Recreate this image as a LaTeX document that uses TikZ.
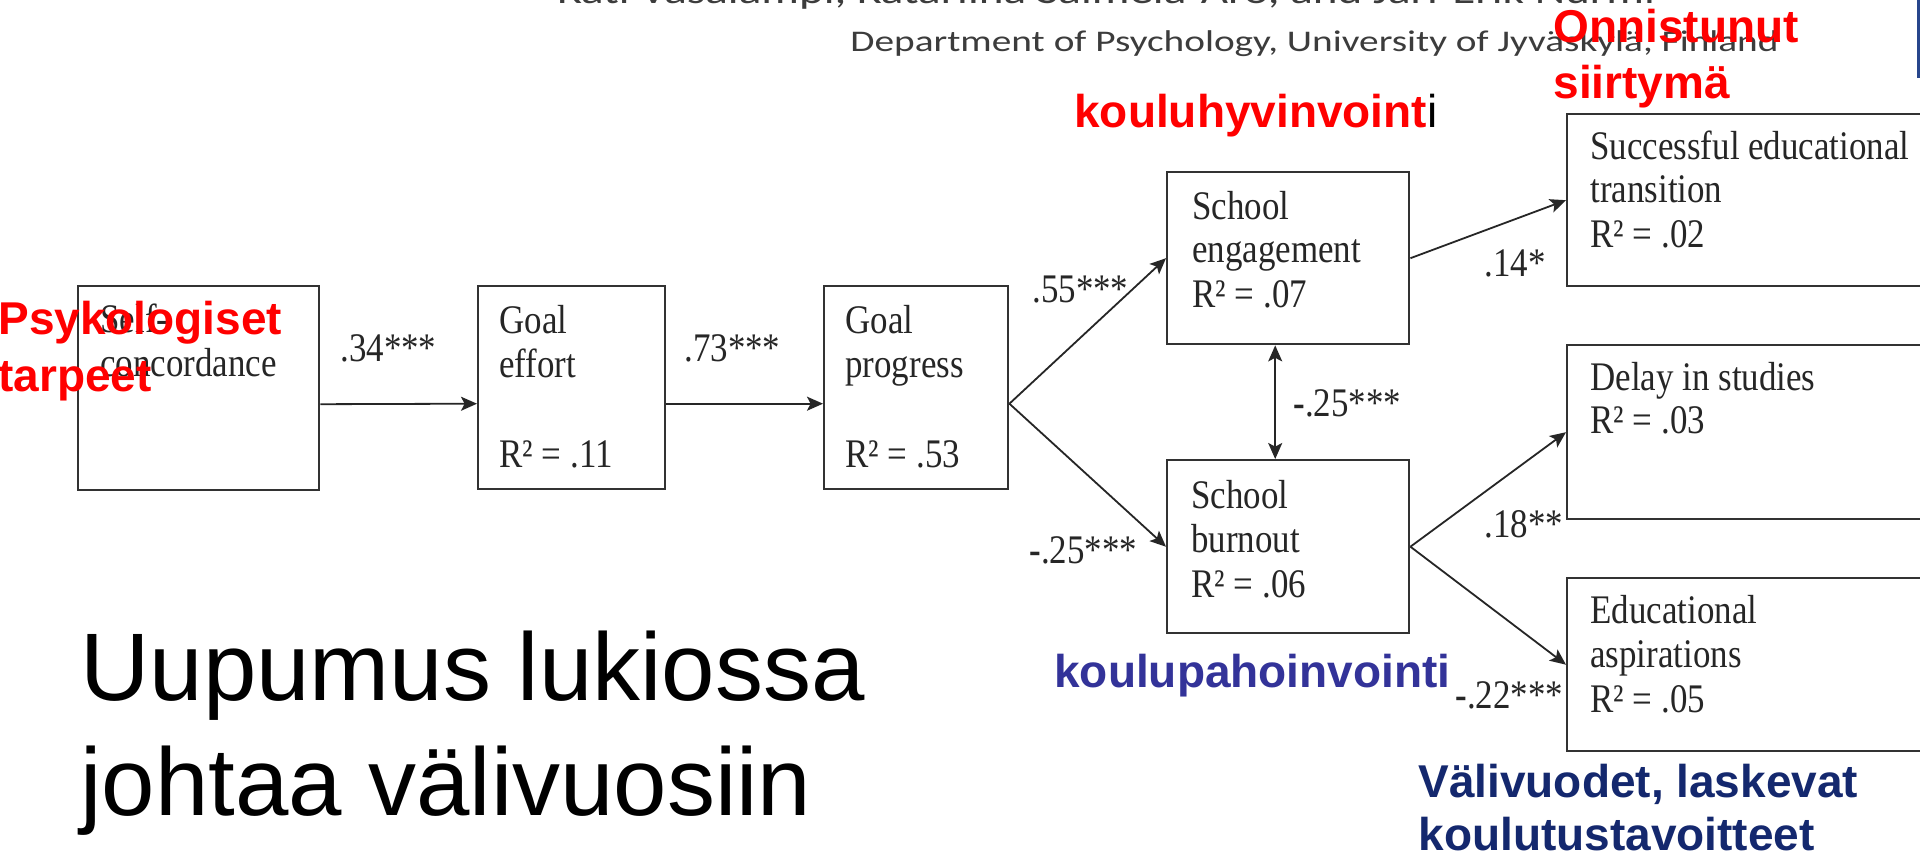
\documentclass[tikz,border=0pt]{standalone}
\usepackage{fontspec}
\usetikzlibrary{arrows.meta}
\setmainfont{Liberation Serif}
\newfontfamily\boxfont[FakeStretch=0.86]{Liberation Serif}
\newfontfamily\arialfont{Liberation Sans}
\newfontfamily\calfont[FakeStretch=1.31]{Carlito}
\definecolor{redtxt}{RGB}{255,0,0}
\definecolor{purp}{RGB}{51,51,153}
\definecolor{navytxt}{RGB}{20,40,110}
\definecolor{boxline}{RGB}{50,50,50}
\definecolor{headgray}{RGB}{60,60,60}
\definecolor{edgeblue}{RGB}{40,70,140}
\tikzset{
  box/.style={draw=boxline, line width=1.2pt, rectangle, inner sep=0pt, anchor=north west},
  btxt/.style={anchor=base west, inner sep=0pt, text=black!85, font=\boxfont\fontsize{20.3pt}{22pt}\selectfont},
  conn/.style={draw=black!85, line width=0.9pt, -{Stealth[length=8pt,width=7pt,inset=1.8pt]}},
  dconn/.style={draw=black!85, line width=0.9pt, {Stealth[length=8pt,width=7pt,inset=1.8pt]}-{Stealth[length=8pt,width=7pt,inset=1.8pt]}},
  redlab/.style={anchor=base west, inner sep=0pt, text=redtxt, font=\arialfont\bfseries\fontsize{23pt}{27pt}\selectfont},
  bluelab/.style={anchor=base west, inner sep=0pt, font=\arialfont\bfseries\fontsize{23pt}{27pt}\selectfont},
  bigtxt/.style={anchor=base west, inner sep=0pt, text=black, font=\arialfont\fontsize{48pt}{56pt}\selectfont},
}
\begin{document}
\begin{tikzpicture}[x=0.5pt,y=-0.5pt]
\useasboundingbox (0,0) rectangle (1920,855);
\clip (0,0) rectangle (1920,855);
\fill[white] (0,0) rectangle (1920,855);

% header
\node[anchor=base west, inner sep=0pt, text=headgray, font=\calfont\fontsize{18pt}{20pt}\selectfont] (authors) at (557,4) {Kati Vasalampi, Katariina Salmela-Aro, and Jari-Erik Nurmi};
\node[anchor=base west, inner sep=0pt, text=headgray, font=\calfont\fontsize{15pt}{18pt}\selectfont] (dept) at (850,52) {Department of Psychology, University of Jyväskylä, Finland};
\coordinate (eb1) at (1918,0);
\coordinate (eb2) at (1918,78);
\draw[edgeblue, line width=1.5pt] (eb1) -- (eb2);

% boxes
\node[box, minimum width=120.5pt, minimum height=102pt] (sc) at (77,285) {};
\node[box, minimum width=93.5pt, minimum height=101.5pt] (ge) at (477,285) {};
\node[box, minimum width=92pt, minimum height=101.5pt] (gp) at (823,285) {};
\node[box, minimum width=121pt, minimum height=86pt] (se) at (1166,171) {};
\node[box, minimum width=121pt, minimum height=86.5pt] (sb) at (1166,459) {};
\node[box, minimum width=190pt, minimum height=86pt] (st) at (1566,113) {};
\node[box, minimum width=190pt, minimum height=87pt] (dl) at (1566,344) {};
\node[box, minimum width=190pt, minimum height=86.5pt] (ea) at (1566,577) {};

% box texts
\node[btxt] (sc1) at (100,333) {Self-};
\node[btxt] (sc2) at (100,377) {concordance};
\node[btxt] (ge1) at (499,334) {Goal};
\node[btxt] (ge2) at (499,378) {effort};
\node[btxt] (ge3) at (499,467) {R² = .11};
\node[btxt] (gp1) at (845,334) {Goal};
\node[btxt] (gp2) at (845,378) {progress};
\node[btxt] (gp3) at (845,467) {R² = .53};
\node[btxt] (se1) at (1192,220) {School};
\node[btxt] (se2) at (1192,263) {engagement};
\node[btxt] (se3) at (1192,307) {R² = .07};
\node[btxt] (sb1) at (1191,508) {School};
\node[btxt] (sb2) at (1191,552) {burnout};
\node[btxt] (sb3) at (1191,597) {R² = .06};
\node[btxt] (st1) at (1590,160) {Successful educational};
\node[btxt] (st2) at (1590,203) {transition};
\node[btxt] (st3) at (1590,248) {R² = .02};
\node[btxt] (dl1) at (1590,390) {Delay in studies};
\node[btxt] (dl2) at (1590,433) {R² = .03};
\node[btxt] (ea1) at (1590,623) {Educational};
\node[btxt] (ea2) at (1590,667) {aspirations};
\node[btxt] (ea3) at (1590,712) {R² = .05};

% connectors
\draw[conn] ([yshift=-8pt]sc.east) -- ([yshift=-8pt]ge.west);
\draw[conn] ([yshift=-8pt]ge.east) -- ([yshift=-8pt]gp.west);
\draw[conn] ([yshift=-8pt]gp.east) -- (se.west);
\draw[conn] ([yshift=-8pt]gp.east) -- (sb.west);
\draw[conn] (se.east) -- (st.west);
\draw[conn] (sb.east) -- (dl.west);
\draw[conn] (sb.east) -- (ea.west);
\draw[dconn] ([xshift=-6.5pt]se.south) -- ([xshift=-6.5pt]sb.north);

% path labels
\node[btxt] (l34) at (340,362) {.34***};
\node[btxt] (l73) at (684,362) {.73***};
\node[btxt] (l55) at (1032,303) {.55***};
\node[btxt] (l14) at (1484,277) {.14*};
\node[btxt] (l25a) at (1293,416) {\textbf{-}.25***};
\node[btxt] (l25b) at (1029,563) {\textbf{-}.25***};
\node[btxt] (l18) at (1484,537) {.18**};
\node[btxt] (l22) at (1455,708) {\textbf{-}.22***};

% annotations
\node[redlab] (psy1) at (-2,335) {Psykologiset};
\node[redlab] (psy2) at (-2,391) {tarpeet};
\node[redlab] (onn1) at (1553,43) {Onnistunut};
\node[redlab] (onn2) at (1553,99) {siirtymä};
\node[redlab] (khv) at (1074,128) {kouluhyvinvoint\textcolor{black}{\mdseries i}};
\node[bluelab, text=purp] (kpv) at (1054,687) {koulupahoinvointi};
\node[bluelab, text=navytxt] (vv1) at (1418,797) {Välivuodet, laskevat};
\node[bluelab, text=navytxt] (vv2) at (1418,850) {koulutustavoitteet};
\node[bigtxt] (big1) at (80,700) {Uupumus lukiossa};
\node[bigtxt] (big2) at (80,815) {johtaa välivuosiin};
\end{tikzpicture}
\end{document}
